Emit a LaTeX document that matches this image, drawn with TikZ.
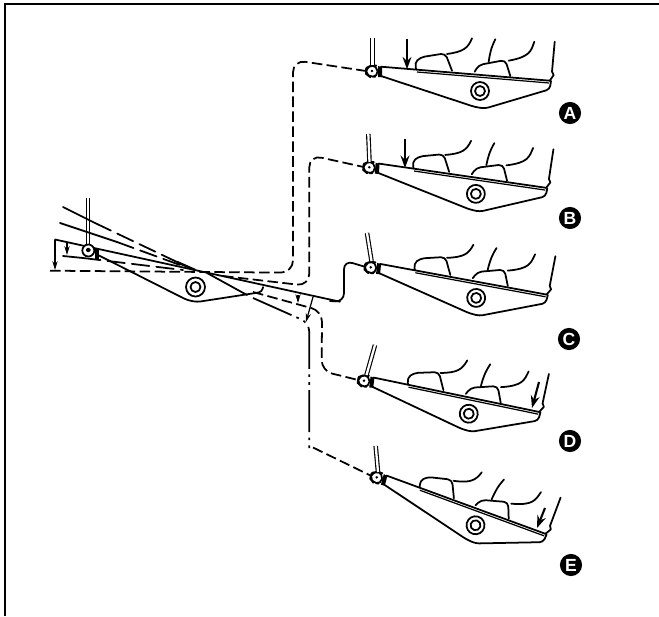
\documentclass[tikz,border=0pt]{standalone}
\usepackage{fontspec}
\setsansfont{Liberation Sans}
\usetikzlibrary{arrows.meta}
\tikzset{
  ink/.style={line width=1pt,line join=round,line cap=round},
  strip/.style={line width=.7pt},
  dashline/.style={line width=1pt,dash pattern=on 6pt off 2.5pt},
  dotline/.style={line width=1pt,dash pattern=on 24pt off 3pt on 1.5pt off 3pt on 1.5pt off 3pt},
  rod/.style={line width=.65pt,double,double distance=1.3pt},
  pusharrow/.style={line width=1.2pt,-{Stealth[length=7pt,width=5pt]}},
  dimarrow/.style={line width=.7pt,-{Stealth[length=5pt,width=3pt]}},
  badge/.style={circle,fill=black,text=white,minimum size=12.6pt,inner sep=0pt,
                font=\sffamily\bfseries\normalsize},
  pedal/.pic={
    \draw[ink] (9,-4.3) -- (178,9.7);
    \draw[strip] (45,1) -- (177,12);
    \draw[ink,rounded corners=2pt] (9,5) -- (103,36) -- (113,37.5) -- (177.7,18.3) -- (179,10);
    \draw[ink,fill=white] (108,20) circle (9);
    \draw[ink] (108,20) circle (5);
    \draw[ink,fill=white,rounded corners=3pt] (-6,-3) -- (-1,-5.5) -- (5,-5.5) -- (6,5.5) -- (-2,6) -- (-6,3) -- cycle;
    \fill (0,0) circle (1.4);
    \fill (6,-5) -- (10,-4) -- (10,6) -- (6,6) -- cycle;
    \coordinate (-eye) at (-6,0);
    % the two feet
    \draw[ink,rounded corners=2.5pt] (44.3,-1.7) -- (42.3,-7.7) -- (48.3,-13.7) -- (73.3,-17.7) -- (80,-0.3);
    \draw[ink] (75,-17) .. controls (91.7,-19.3) and (96,-23) .. (100,-32.7);
    \draw[ink,rounded corners=2.5pt] (102.7,0.7) -- (106.7,-6) -- (133.3,-11) -- (138.3,5);
    \draw[ink] (136.7,-10.3) .. controls (158.3,-14.3) and (159,-20) .. (162.3,-29.3);
    \draw[ink] (116.7,-9.3) .. controls (118,-18) and (119,-23) .. (123.3,-31.7);
    \draw[ink] (182.7,-29.3) -- (180,0.7) -- (181.7,4) -- (177.7,9.7);
  },
}
\begin{document}
\begin{tikzpicture}[x=0.02cm,y=-0.02cm]
\useasboundingbox (0,0) rectangle (659,616);
\draw[line width=1.2pt] (659,4) -- (5,4) -- (5,616);

% main pedal
\draw[rod] (88,198) -- (88,245);
\draw[ink,rounded corners=2pt] (98,255) -- (187,300) -- (197,302) -- (262,292) -- (263,287);
\draw[ink,fill=white] (195.5,287) circle (9.5);
\draw[ink] (195.5,287) circle (5);
\draw[ink] (55,239.5) -- (340,301.7);
\draw[ink] (63,207) -- (95,223);
\draw[ink,dash pattern=on 10pt off 4pt] (95,223) -- (177,262);
\draw[line width=1.4pt] (177,262) -- (195,270);
\draw[ink] (207,273) -- (247,295);
\draw[ink] (60,223) -- (117,242);
\draw[ink,dash pattern=on 10pt off 4pt] (117,242) -- (180,265);
\draw[ink] (63,256) -- (83,258);
\draw[ink,dash pattern=on 10pt off 4pt] (83,258) -- (183,270);
\draw[ink,fill=white] (88.3,250.5) circle (6);
\draw[ink] (88.3,250) circle (1.6);
\fill (95,249) -- (99,249) -- (99,259) -- (95,259) -- cycle;
\coordinate (fana) at (50,270.7);
\coordinate (fanb) at (223,276);
\coordinate (fanc) at (330,301);
\coordinate (fand) at (253,292);
\coordinate (fane) at (253,298);

% the five positions
\pic (pa) at (372,71) {pedal};
\pic[rotate=-3.5] (pb) at (369.3,167.3) {pedal};
\pic[rotate=-5.7] (pc) at (370.7,267.3) {pedal};
\pic[rotate=-7] (pd) at (364,380.7) {pedal};
\pic[rotate=-15.4] (pe) at (376.7,477.3) {pedal};
\draw[rod] (372.5,38) -- (372.5,65);
\draw[rod] (368.3,134) -- (369.5,162);
\draw[rod] (367,233) -- (371.5,261);
\draw[rod] (375,345) -- (366.5,375);
\draw[rod] (375.7,446) -- (378,472);

% connectors
\draw[dashline,rounded corners=7pt] (fana) -- (293,272.7) -- (293,60) -- (pa-eye);
\draw[dashline,rounded corners=7pt] (fanb) -- (309.3,286) -- (309.3,155) -- (pb-eye);
\draw[ink,rounded corners=5pt] (fanc) -- (344,302) -- (344,260.5) -- (pc-eye);
\draw[dashline,rounded corners=6pt] (fand) -- (322,311) -- (321.7,371) -- (pd-eye);
\draw[dotline,rounded corners=5pt] (fane) -- (309.3,323) -- (309.3,449);
\draw[dashline] (313,447.5) -- (pe-eye);

% arrows
\draw[pusharrow] (407,39.3) -- (407,69.3);
\draw[pusharrow] (405,139) -- (405,168);
\draw[pusharrow] (539,382) -- (532,408);
\draw[pusharrow] (545,508) -- (537,528);
\draw[dimarrow] (55,240) -- (55,270);
\draw[dimarrow] (67,242) -- (67,255);
\draw[dimarrow] (298,295) -- (298,303);
\draw[dimarrow] (313,297) -- (306,322);

\node[badge] (la) at (570,113) {A};
\node[badge] (lb) at (570,218) {B};
\node[badge] (lc) at (569,339) {C};
\node[badge] (ld) at (570,441) {D};
\node[badge] (le) at (571,565) {E};
\end{tikzpicture}
\end{document}
